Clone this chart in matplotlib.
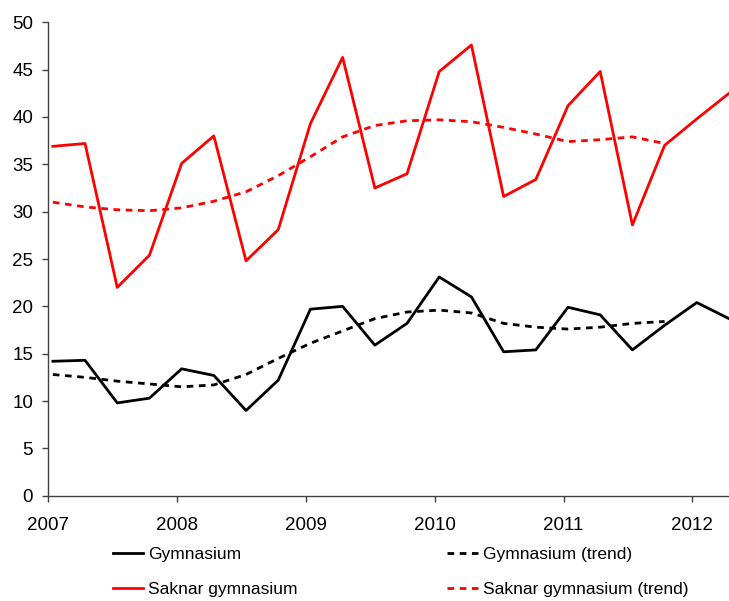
import numpy as np
import matplotlib
matplotlib.use('Agg')
import matplotlib.pyplot as plt

plt.rcParams['font.family'] = ['Liberation Sans', 'DejaVu Sans']

# quarterly values, 2007 Q1 .. 2012 Q2
gymnasium = [14.2, 14.3, 9.8, 10.3, 13.4, 12.7, 9.0, 12.2, 19.7, 20.0, 15.9,
             18.2, 23.1, 21.0, 15.2, 15.4, 19.9, 19.1, 15.4, 18.0, 20.4, 18.7]
saknar = [36.9, 37.2, 22.0, 25.4, 35.1, 38.0, 24.8, 28.1, 39.3, 46.3, 32.5,
          34.0, 44.8, 47.6, 31.6, 33.4, 41.2, 44.8, 28.6, 37.0, 39.8, 42.5]
gymnasium_trend = [12.8, 12.5, 12.1, 11.8, 11.5, 11.7, 12.8, 14.5, 16.1, 17.4,
                   18.7, 19.4, 19.6, 19.3, 18.2, 17.8, 17.6, 17.8, 18.2, 18.4]
saknar_trend = [31.0, 30.5, 30.2, 30.1, 30.4, 31.1, 32.1, 33.8, 35.8, 37.9,
                39.1, 39.6, 39.7, 39.5, 38.9, 38.2, 37.4, 37.6, 37.9, 37.2]
years = [2007, 2008, 2009, 2010, 2011, 2012]

x = 2007.035 + np.arange(len(gymnasium)) * 0.25
xt = x[:len(gymnasium_trend)]

fig = plt.figure(figsize=(7.29, 6.01), dpi=100)
ax = fig.add_axes([0.0663, 0.1752, 0.9337, 0.7877])

lw = 2.0
dash = (2.4, 2.0)
ax.plot(x, gymnasium, color='black', lw=lw, label='Gymnasium')
ax.plot(x, saknar, color='#ff0000', lw=lw, label='Saknar gymnasium')
ax.plot(xt, gymnasium_trend, color='black', lw=lw, dashes=dash,
        label='Gymnasium (trend)')
ax.plot(xt, saknar_trend, color='#ff0000', lw=lw, dashes=dash,
        label='Saknar gymnasium (trend)')

ax.set_xlim(2007, x[-1])
ax.set_ylim(0, 50)
ax.set_xticks(years)
ax.set_xticklabels([str(y) for y in years])
ax.set_yticks(range(0, 51, 5))

for s in ['top', 'right']:
    ax.spines[s].set_visible(False)
for s in ['left', 'bottom']:
    ax.spines[s].set_color('#404040')
    ax.spines[s].set_linewidth(1.0)
ax.tick_params(axis='both', direction='out', length=4, width=1.0,
               color='#404040', labelsize=13.5)
ax.tick_params(axis='y', pad=7)
ax.tick_params(axis='x', pad=11.5)

h, l = ax.get_legend_handles_labels()
fig.legend(h, l, ncol=2, loc='upper left',
           bbox_to_anchor=(112.7 / 729, 1 - 547 / 601),
           frameon=False, fontsize=12.5, handlelength=1.76,
           handletextpad=0.29, columnspacing=8.6, labelspacing=1.15,
           borderpad=0, borderaxespad=0)

fig.savefig('out.png', dpi=100)
